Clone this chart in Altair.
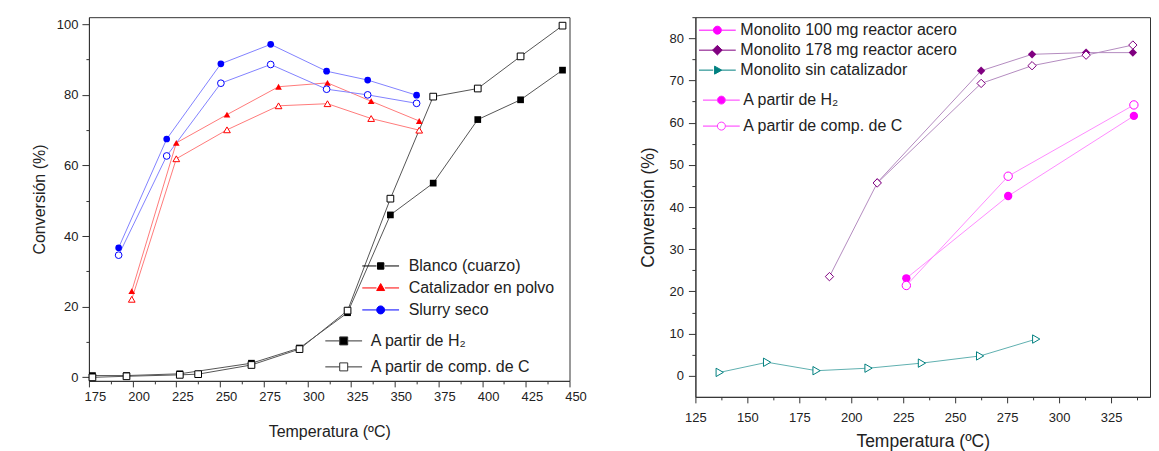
import altair as alt
import pandas as pd

FONT = "Liberation Sans"

# ---------------- Left panel data ----------------
L_series = ["Blanco (cuarzo)", "Catalizador en polvo", "Slurry seco"]
L_tipos = ["A partir de H₂", "A partir de comp. de C"]
L_colors = ["#000000", "#ff0000", "#0000ff"]
L_line_colors = ["#555555", "#ff7a7a", "#8282ff"]
L_shapes = ["square", "triangle-up", "circle"]

blanco_h2_T = [177, 196.5, 227, 268, 295.5, 323, 347.5, 372, 397.5, 422, 446]
blanco_h2_y = [0.5, 0.5, 1.0, 4.0, 8.3, 18.3, 46.0, 55.0, 73.0, 78.6, 87.0]
blanco_c_T = [177, 196.5, 227, 237.5, 268, 295.5, 323, 347.5, 372, 397.5, 422, 446]
blanco_c_y = [0.0, 0.3, 0.7, 0.9, 3.5, 8.0, 18.9, 50.6, 79.5, 81.8, 90.9, 99.6]

catal_T = [199.5, 225, 254, 283.5, 311.5, 336.5, 364]
catal_h2_y = [24.4, 66.4, 74.4, 82.3, 83.4, 78.2, 72.6]
catal_c_y = [22.1, 61.9, 70.1, 76.9, 77.5, 73.3, 70.0]

slurry_T = [192, 219.5, 250.5, 279, 311, 334.5, 362.5]
slurry_h2_y = [36.7, 67.5, 88.8, 94.3, 86.7, 84.2, 79.9]
slurry_c_y = [34.6, 62.7, 83.3, 88.6, 81.6, 80.0, 77.6]

L_xticks = [175, 187.5, 200, 212.5, 225, 237.5, 250, 262.5, 275, 287.5, 300, 312.5,
            325, 337.5, 350, 362.5, 375, 387.5, 400, 412.5, 425, 437.5, 450]
L_yticks = [0, 10, 20, 30, 40, 50, 60, 70, 80, 90, 100]

# ---------------- Right panel data ----------------
R_series = ["Monolito 100 mg reactor acero", "Monolito 178 mg reactor acero", "Monolito sin catalizador"]
R_tipos = ["A partir de H₂", "A partir de comp. de C"]
R_colors = ["#ff00ff", "#800080", "#008080"]
R_line_colors = ["#ff8cff", "#b48cc0", "#5fb0b0"]
R_shapes = ["circle", "diamond", "triangle-right"]

m100_T = [226.5, 275.5, 336]
m100_h2_y = [23.1, 42.6, 61.6]
m100_c_y = [21.4, 47.3, 64.2]

m178_h2_T = [212.5, 262.5, 287, 313, 335.5]
m178_h2_y = [45.8, 72.3, 76.2, 76.6, 76.6]
m178_c_T = [189.5, 212.5, 262.5, 287, 313, 335.5]
m178_c_y = [23.5, 45.7, 69.3, 73.5, 76.0, 78.4]

sin_c_T = [136.7, 159.5, 183.3, 208.3, 234, 262, 289]
sin_c_y = [0.8, 3.2, 1.2, 1.8, 3.0, 4.7, 8.7]

R_xticks = [125, 137.5, 150, 162.5, 175, 187.5, 200, 212.5, 225, 237.5, 250, 262.5,
            275, 287.5, 300, 312.5, 325, 337.5]
R_yticks = [0, 5, 10, 15, 20, 25, 30, 35, 40, 45, 50, 55, 60, 65, 70, 75, 80, 85]


def rows(serie, tipo, T, y):
    return [{"T": t, "conv": v, "serie": serie, "tipo": tipo} for t, v in zip(T, y)]


left_df = pd.DataFrame(
    rows(L_series[0], L_tipos[0], blanco_h2_T, blanco_h2_y)
    + rows(L_series[0], L_tipos[1], blanco_c_T, blanco_c_y)
    + rows(L_series[1], L_tipos[0], catal_T, catal_h2_y)
    + rows(L_series[1], L_tipos[1], catal_T, catal_c_y)
    + rows(L_series[2], L_tipos[0], slurry_T, slurry_h2_y)
    + rows(L_series[2], L_tipos[1], slurry_T, slurry_c_y)
)
right_df = pd.DataFrame(
    rows(R_series[0], R_tipos[0], m100_T, m100_h2_y)
    + rows(R_series[0], R_tipos[1], m100_T, m100_c_y)
    + rows(R_series[1], R_tipos[0], m178_h2_T, m178_h2_y)
    + rows(R_series[1], R_tipos[1], m178_c_T, m178_c_y)
    + rows(R_series[2], R_tipos[1], sin_c_T, sin_c_y)
)

# ---------------- legend symbol paths (line + marker) ----------------
LINE = "M-4.6,0H-1.05M1.05,0H4.6"
MARK = {
    "square": "M-0.8,-0.8H0.8V0.8H-0.8Z",
    "bigsquare": "M-1,-1H1V1H-1Z",
    "triangle-up": "M0,-1.1L1,0.65L-1,0.65Z",
    "circle": "M-1,0A1,1,0,1,1,1,0A1,1,0,1,1,-1,0Z",
    "diamond": "M0,-1.2L1.2,0L0,1.2L-1.2,0Z",
    "triangle-right": "M1.1,0L-0.7,-1L-0.7,1Z",
}


def legend(x, y, label_offset, row_pad):
    return alt.Legend(
        orient="none", legendX=x, legendY=y, title=None, padding=0,
        labelFont=FONT, labelFontSize=16, labelColor="#222", labelLimit=0,
        labelOffset=label_offset, rowPadding=row_pad, symbolSize=64,
        symbolOpacity=1, symbolStrokeWidth=1,
    )


def tick_axis(values, major_mod, title, tsize, major, minor, label_pad, title_pad, label_offset=0):
    return alt.Axis(
        values=values,
        labelExpr=f"datum.value % {major_mod} === 0 ? datum.label : ''",
        tickSize={"condition": {"test": f"datum.value % {major_mod} === 0", "value": major}, "value": minor},
        title=title, titleFont=FONT, titleFontSize=tsize, titleFontWeight="normal", titleColor="#222",
        labelFont=FONT, labelFontSize=13, labelColor="#222", labelPadding=label_pad,
        titlePadding=title_pad, labelOverlap=False, labelFlush=False, labelOffset=label_offset,
        grid=False, domainColor="#333", tickColor="#333",
    )


INDEP = dict(color="independent", shape="independent", fill="independent",
             stroke="independent", opacity="independent")


def panel(df, series, tipos, colors, line_colors, shapes, tipo_marks, tipo_fill, tipo_stroke,
          xenc, yenc, leg1, leg2, size, width, height):
    invisible = alt.Opacity("conv:Q", scale=alt.Scale(range=[0, 0]), legend=None)
    lines = alt.Chart(df).mark_line(strokeWidth=1).encode(
        x=xenc, y=yenc,
        color=alt.Color("serie:N", scale=alt.Scale(domain=series, range=line_colors), legend=None),
        detail="tipo:N",
    )
    col = alt.Color("serie:N", scale=alt.Scale(domain=series, range=colors), legend=None)
    shp = alt.Shape("serie:N", scale=alt.Scale(domain=series, range=shapes), legend=None)
    filled = alt.Chart(df).transform_filter(alt.datum.tipo == tipos[0]).mark_point(
        filled=True, size=size, opacity=1).encode(x=xenc, y=yenc, color=col, shape=shp)
    opened = alt.Chart(df).transform_filter(alt.datum.tipo == tipos[1]).mark_point(
        filled=False, fill="white", size=size, opacity=1, strokeWidth=1).encode(
        x=xenc, y=yenc, color=col, shape=shp)
    # legend-only layers (marks fully transparent, legend symbols = line + marker)
    leg_series = alt.Chart(df).mark_point(filled=True).encode(
        x=xenc, y=yenc, opacity=invisible,
        fill=alt.Fill("serie:N", scale=alt.Scale(domain=series, range=colors), legend=leg1),
        stroke=alt.Stroke("serie:N", scale=alt.Scale(domain=series, range=colors), legend=leg1),
        shape=alt.Shape("serie:N", scale=alt.Scale(domain=series, range=[LINE + MARK[s] for s in shapes]),
                        legend=leg1),
    )
    leg_tipo = alt.Chart(df).mark_point(filled=True).encode(
        x=xenc, y=yenc, opacity=invisible,
        fill=alt.Fill("tipo:N", scale=alt.Scale(domain=tipos, range=tipo_fill), legend=leg2),
        stroke=alt.Stroke("tipo:N", scale=alt.Scale(domain=tipos, range=tipo_stroke), legend=leg2),
        shape=alt.Shape("tipo:N", scale=alt.Scale(domain=tipos, range=[LINE + m for m in tipo_marks]),
                        legend=leg2),
    )
    return alt.layer(lines, filled, opened, leg_series, leg_tipo).resolve_scale(**INDEP).properties(
        width=width, height=height)


# ---------------- Left chart ----------------
xL = alt.X("T:Q", scale=alt.Scale(domain=[175, 450], nice=False, zero=False),
           axis=tick_axis(L_xticks, 25, "Temperatura (ºC)", 16, 6, 3, 4, 20, 6))
yL = alt.Y("conv:Q", scale=alt.Scale(domain=[-1, 102], nice=False, zero=False),
           axis=tick_axis(L_yticks, 20, "Conversión (%)", 16, 7, 3, 4, 9))

left = panel(left_df, L_series, L_tipos, L_colors, L_line_colors, L_shapes,
             [MARK["bigsquare"], MARK["bigsquare"]], ["#000000", "#ffffff"], ["#333333", "#333333"],
             xL, yL, legend(284, 241, 20, 6), legend(247, 316, 19, 10), 45, 481, 364)

# ---------------- Right chart ----------------
xR = alt.X("T:Q", scale=alt.Scale(domain=[125, 343.75], nice=False, zero=False),
           axis=tick_axis(R_xticks, 25, "Temperatura (ºC)", 17.5, 6, 3, 9, 8))
yR = alt.Y("conv:Q", scale=alt.Scale(domain=[-5, 85], nice=False, zero=False),
           axis=tick_axis(R_yticks, 10, "Conversión (%)", 17.5, 7, 3.5, 5, 11))

right = panel(right_df, R_series, R_tipos, R_colors, R_line_colors, R_shapes,
              [MARK["circle"], MARK["circle"]], ["#ff00ff", "#ffffff"], ["#ff33ff", "#ff33ff"],
              xR, yR, legend(14, 5, 15, 4), legend(18, 75, 14, 10), 70, 455, 380)

chart = alt.hconcat(left, right, spacing=52).resolve_scale(
    x="independent", y="independent", **INDEP
).properties(
    padding={"left": 22, "top": 2, "right": 0, "bottom": 0},
    background="white",
).configure_view(stroke="#333", strokeWidth=1)

chart.save("out.html", embed_options={"renderer": "svg", "actions": False})
